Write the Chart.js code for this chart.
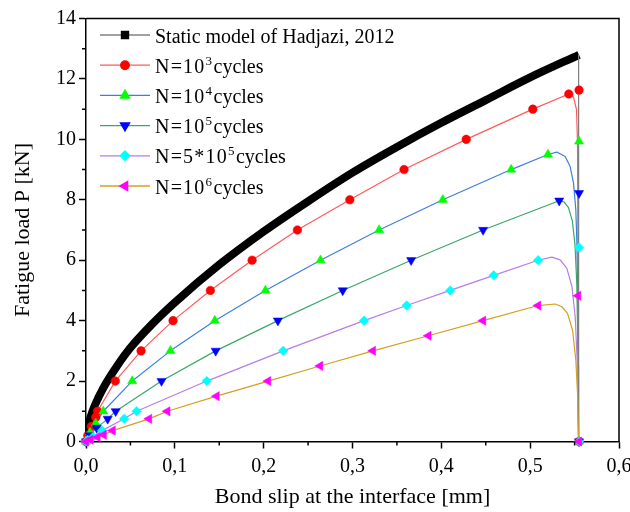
<!DOCTYPE html>
<html><head><meta charset="utf-8">
<script src="https://cdn.jsdelivr.net/npm/chart.js@4.4.1/dist/chart.umd.min.js"></script>
<style>html,body{margin:0;padding:0;background:#fff;}#wrap{width:630px;height:512px;}</style>
</head><body><div id="wrap"><canvas id="c" width="630" height="512"></canvas></div>
<script>
const FONT = '"Liberation Serif", "Times New Roman", Times, serif';

// ---- data ----
const staticX = [0, 0.002, 0.005, 0.01, 0.02, 0.035, 0.05, 0.075, 0.1, 0.15, 0.2, 0.25, 0.3, 0.35, 0.4, 0.45, 0.5, 0.555];
const staticY = [0, 0.45, 0.8, 1.2, 1.8, 2.5, 3.1, 3.9, 4.6, 5.85, 6.95, 7.95, 8.9, 9.75, 10.55, 11.3, 12.05, 12.8];
const staticDropX = [0.5545, 0.5545];
const staticDropY = [12.8, 0];

const n3CurveX = [0, 0.002, 0.006, 0.011, 0.013, 0.033, 0.062, 0.098, 0.14, 0.187, 0.238, 0.297, 0.358, 0.428, 0.503, 0.5435, 0.5488, 0.5522, 0.5533, 0.5545];
const n3CurveY = [0, 0.2, 0.5, 0.8, 1, 2, 3, 4, 5, 6, 7, 8, 9, 10, 11, 11.5, 11.4, 10.98, 9.87, 0];
const n3MarkX = [0, 0.002, 0.006, 0.011, 0.013, 0.033, 0.062, 0.098, 0.14, 0.187, 0.238, 0.297, 0.358, 0.428, 0.503, 0.5435, 0.555, 0.555];
const n3MarkY = [0, 0.2, 0.5, 0.8, 1, 2, 3, 4, 5, 6, 7, 8, 9, 10, 11, 11.5, 11.63, 0];

const n4CurveX = [0, 0.002, 0.0045, 0.011, 0.0195, 0.052, 0.095, 0.145, 0.202, 0.264, 0.33, 0.4017, 0.4786, 0.52, 0.53, 0.5394, 0.545, 0.5488, 0.5514, 0.5526, 0.5537, 0.5545];
const n4CurveY = [0, 0.1, 0.3, 0.6, 1, 2, 3, 4, 5, 6, 7, 8, 9, 9.5, 9.58, 9.43, 9.1, 8.55, 7.67, 6.56, 4.35, 0];
const n4MarkX = [0, 0.002, 0.0045, 0.011, 0.0195, 0.052, 0.095, 0.145, 0.202, 0.264, 0.33, 0.4017, 0.4786, 0.52, 0.555, 0.555];
const n4MarkY = [0, 0.1, 0.3, 0.6, 1, 2, 3, 4, 5, 6, 7, 8, 9, 9.5, 9.93, 0];

const n5CurveX = [0, 0.004, 0.012, 0.0244, 0.0334, 0.085, 0.146, 0.216, 0.289, 0.366, 0.447, 0.5327, 0.538, 0.543, 0.5475, 0.5505, 0.5525, 0.554, 0.5545];
const n5CurveY = [0, 0.2, 0.45, 0.75, 1, 2, 3, 4, 5, 6, 7, 7.97, 7.93, 7.75, 7.3, 6.5, 5.2, 2.5, 0];
const n5MarkX = [0, 0.004, 0.012, 0.0244, 0.0334, 0.085, 0.146, 0.216, 0.289, 0.366, 0.447, 0.5327, 0.555, 0.555];
const n5MarkY = [0, 0.2, 0.45, 0.75, 1, 2, 3, 4, 5, 6, 7, 7.97, 8.22, 0];

const n55CurveX = [0, 0.002, 0.008, 0.018, 0.043, 0.057, 0.136, 0.222, 0.313, 0.361, 0.41, 0.459, 0.509, 0.5244, 0.5338, 0.5413, 0.547, 0.5507, 0.5529, 0.5545];
const n55CurveY = [0, 0.05, 0.15, 0.36, 0.75, 1, 2, 3, 4, 4.5, 5, 5.5, 6, 6.1, 6.01, 5.73, 5.13, 4.13, 2.7, 0];
const n55MarkX = [0, 0.002, 0.008, 0.018, 0.043, 0.057, 0.136, 0.222, 0.313, 0.361, 0.41, 0.459, 0.509, 0.555, 0.555];
const n55MarkY = [0, 0.05, 0.15, 0.36, 0.75, 1, 2, 3, 4, 4.5, 5, 5.5, 6, 6.42, 0];

const n6CurveX = [0, 0.005, 0.013, 0.02, 0.03, 0.071, 0.0916, 0.147, 0.205, 0.2635, 0.323, 0.3855, 0.447, 0.509, 0.5281, 0.5357, 0.542, 0.5477, 0.5514, 0.5533, 0.5545];
const n6CurveY = [0, 0.06, 0.14, 0.22, 0.36, 0.75, 1, 1.5, 2, 2.5, 3, 3.5, 4, 4.5, 4.55, 4.46, 4.24, 3.69, 2.7, 1.6, 0];
const n6MarkX = [0, 0.005, 0.013, 0.02, 0.03, 0.071, 0.0916, 0.147, 0.205, 0.2635, 0.323, 0.3855, 0.447, 0.509, 0.554, 0.555];
const n6MarkY = [0, 0.06, 0.14, 0.22, 0.36, 0.75, 1, 1.5, 2, 2.5, 3, 3.5, 4, 4.5, 4.82, 0];

const xTickLabels = ['0,0', '0,1', '0,2', '0,3', '0,4', '0,5', '0,6'];
const yTickLabels = ['0', '2', '4', '6', '8', '10', '12', '14'];
const xMinorTicks = [0.05, 0.15, 0.25, 0.35, 0.45, 0.55];
const yMinorTicks = [1, 3, 5, 7, 9, 11, 13];

const legendNames = [
  [['Static model of Hadjazi, 2012', false]],
  [['N=10', false], ['3', true], ['cycles', false]],
  [['N=10', false], ['4', true], ['cycles', false]],
  [['N=10', false], ['5', true], ['cycles', false]],
  [['N=5*10', false], ['5', true], ['cycles', false]],
  [['N=10', false], ['6', true], ['cycles', false]]
];

// ---- styles ----
const series = [
  {cx: staticX, cy: staticY, mx: null, my: null, line: '#000000', lw: 8, legLine: '#808080', mark: '#000000', style: 'rect', r: 5, rot: 0, smooth: true},
  {cx: n3CurveX, cy: n3CurveY, mx: n3MarkX, my: n3MarkY, line: '#ff5a5a', lw: 1.2, mark: '#ff0000', style: 'circle', r: 4.3, rot: 0},
  {cx: n4CurveX, cy: n4CurveY, mx: n4MarkX, my: n4MarkY, line: '#3d7fe0', lw: 1.2, mark: '#00ff00', style: 'triangle', r: 5.3, rot: 0},
  {cx: n5CurveX, cy: n5CurveY, mx: n5MarkX, my: n5MarkY, line: '#3aa86a', lw: 1.2, mark: '#0000ff', style: 'triangle', r: 5.3, rot: 180},
  {cx: n55CurveX, cy: n55CurveY, mx: n55MarkX, my: n55MarkY, line: '#b57ee8', lw: 1.2, mark: '#00ffff', style: 'rectRot', r: 4.8, rot: 0},
  {cx: n6CurveX, cy: n6CurveY, mx: n6MarkX, my: n6MarkY, line: '#d4a020', lw: 1.2, mark: '#ff00ff', style: 'triangle', r: 5.3, rot: 270}
];

const zip = (xs, ys) => xs.map((x, i) => ({x: x, y: ys[i]}));
const datasets = [];
series.forEach((s, i) => {
  const ds = {
    data: zip(s.cx, s.cy), borderColor: s.line, borderWidth: s.lw, pointRadius: 0,
    tension: 0, fill: false, order: 30 - i, borderJoinStyle: 'round', borderCapStyle: 'butt'
  };
  if (s.smooth) { ds.cubicInterpolationMode = 'monotone'; }
  datasets.push(ds);
  if (s.mx) {
    datasets.push({
      data: zip(s.mx, s.my), showLine: false, pointStyle: s.style, pointRadius: s.r,
      pointRotation: s.rot, pointBackgroundColor: s.mark, pointBorderColor: s.mark,
      pointBorderWidth: 0.5, order: 10 - i, clip: false
    });
  }
});
datasets.push({
  data: zip(staticDropX, staticDropY), borderColor: '#808080', borderWidth: 1,
  pointRadius: 0, tension: 0, order: 25
});

const frameAndMinor = {
  id: 'frameAndMinor',
  afterDraw(chart) {
    const {ctx, chartArea: a, scales: {x, y}} = chart;
    ctx.save();
    ctx.strokeStyle = '#000'; ctx.lineWidth = 1.5;
    ctx.beginPath();
    ctx.moveTo(a.left, a.top); ctx.lineTo(a.right, a.top); ctx.lineTo(a.right, a.bottom);
    ctx.stroke();
    ctx.beginPath();
    xMinorTicks.forEach(v => { const p = x.getPixelForValue(v); ctx.moveTo(p, a.bottom); ctx.lineTo(p, a.bottom + 4); });
    yMinorTicks.forEach(v => { const p = y.getPixelForValue(v); ctx.moveTo(a.left, p); ctx.lineTo(a.left - 4, p); });
    ctx.stroke();
    ctx.restore();
  }
};

const legendPlugin = {
  id: 'customLegend',
  afterDraw(chart) {
    const ctx = chart.ctx;
    const x0 = 100, x1 = 150, tx = 155, y0 = 35, dy = 30.2;
    series.forEach((s, i) => {
      const y = y0 + i * dy;
      ctx.save();
      ctx.strokeStyle = s.legLine || s.line; ctx.lineWidth = 1.3;
      ctx.beginPath(); ctx.moveTo(x0, y); ctx.lineTo(x1, y); ctx.stroke();
      ctx.fillStyle = s.mark; ctx.strokeStyle = s.mark;
      Chart.helpers.drawPoint(ctx, {pointStyle: s.style, radius: s.r, rotation: s.rot, borderWidth: 0.5}, (x0 + x1) / 2, y);
      ctx.fillStyle = '#000'; ctx.textBaseline = 'alphabetic'; ctx.textAlign = 'left';
      let x = tx;
      const parts = legendNames[i];
      parts.forEach(([t, sup]) => {
        ctx.font = (sup ? '13px ' : '20px ') + FONT;
        ctx.letterSpacing = (parts.length > 1 && !sup && t.startsWith('N')) ? '1.2px' : '0px';
        ctx.fillText(t, x, sup ? y - 0.5 : y + 7.5);
        x += ctx.measureText(t).width + (sup ? 1.5 : 0);
      });
      ctx.letterSpacing = '0px';
      ctx.restore();
    });
  }
};

new Chart(document.getElementById('c'), {
  type: 'line',
  data: {datasets: datasets},
  options: {
    responsive: false, animation: false, devicePixelRatio: 1,
    layout: {padding: {left: 0, right: 11, top: 18.5, bottom: 0}},
    plugins: {legend: {display: false}, tooltip: {enabled: false}},
    scales: {
      x: {
        type: 'linear', min: 0, max: 0.6,
        ticks: {stepSize: 0.1, color: '#000', font: {family: FONT, size: 20}, padding: 6, maxRotation: 0, autoSkip: false,
          callback: (v, i) => xTickLabels[i]},
        grid: {display: true, drawOnChartArea: false, drawTicks: true, tickLength: 7, tickWidth: 1.5, tickColor: '#000'},
        border: {display: true, color: '#000', width: 1.5},
        title: {display: true, text: 'Bond slip at the interface [mm]', color: '#000', font: {family: FONT, size: 22}, padding: {top: 0, bottom: 2}},
        afterFit(s) { s.height = 70.5; s.paddingLeft = 0; s.paddingRight = 0; }
      },
      y: {
        type: 'linear', min: 0, max: 14,
        ticks: {stepSize: 2, color: '#000', font: {family: FONT, size: 20}, padding: 3,
          callback: (v, i) => yTickLabels[i]},
        grid: {display: true, drawOnChartArea: false, drawTicks: true, tickLength: 7, tickWidth: 1.5, tickColor: '#000'},
        border: {display: true, color: '#000', width: 1.5},
        title: {display: true, text: 'Fatigue load P [kN]', color: '#000', font: {family: FONT, size: 22}, padding: {top: 10, bottom: 0}},
        afterFit(s) { s.width = 86; s.paddingTop = 0; s.paddingBottom = 0; }
      }
    }
  },
  plugins: [frameAndMinor, legendPlugin]
});
</script></body></html>
